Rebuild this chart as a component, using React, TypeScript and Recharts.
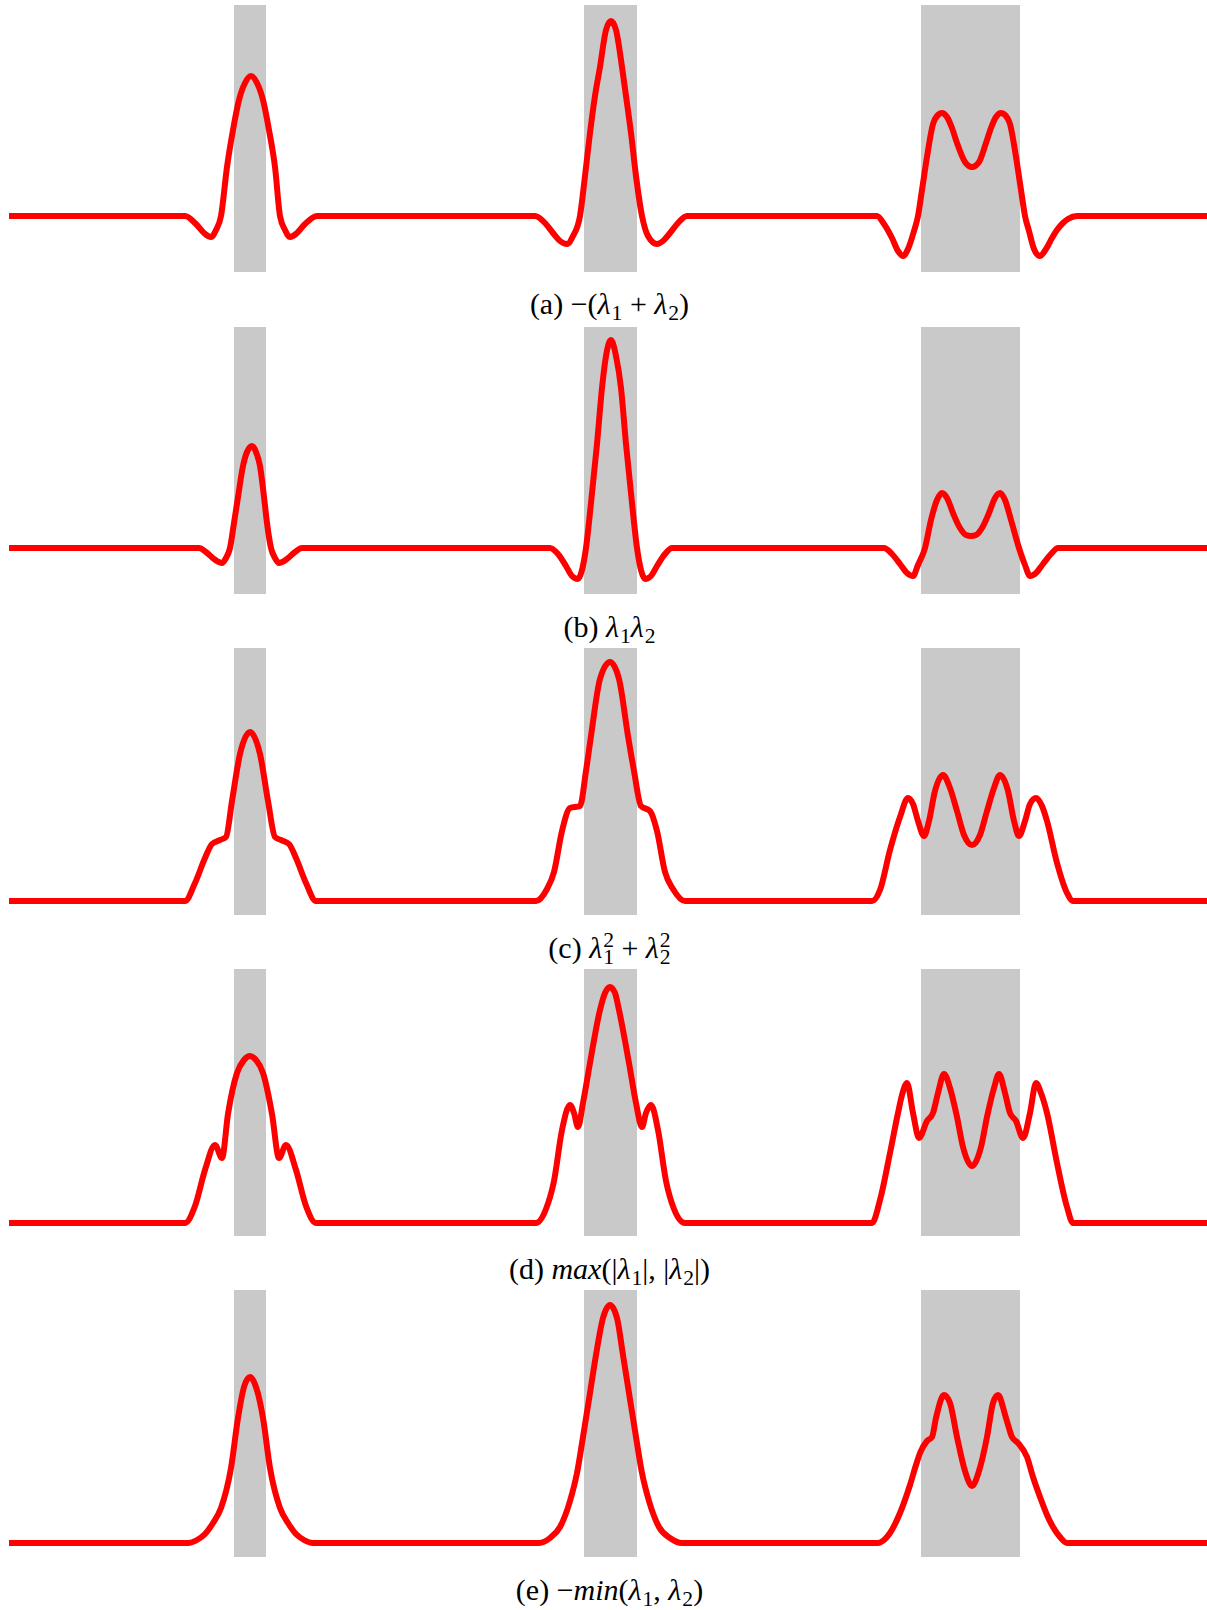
import React from 'react';
import { LineChart, Line, XAxis, YAxis, ReferenceArea } from 'recharts';

// gray bands (same in every panel), x in pixels of the 1207px wide figure
const bandStarts = [234, 584, 921];
const bandEnds = [266, 637, 1020];

// curves: [x, height above the panel's flat level]
const curveA: [number, number][] = [
  [9, 0], [185, 0], [196, -8], [204, -17], [211, -21], [216, -14], [221, 0], [227, 49], [233, 86], [239, 116], [245, 133], [251, 140], [257, 133], [263, 116], [269, 86], [275, 49], [280, 0], [285, -14], [290, -21], [297, -17], [305, -8], [317, 0],
  [535, 0], [545, -7], [553, -17], [560, -25], [567, -28], [573, -20], [580, 0], [585, 40], [590, 83], [595, 120], [600, 149], [606, 186], [611, 195], [616, 186], [622, 149], [626, 120], [631, 83], [636, 40], [642, 0], [648, -20], [657, -28], [663, -25], [670, -17], [678, -7], [687, 0],
  [877, 0], [884, -8], [892, -22], [898, -35], [903, -40], [908, -33], [914, -15], [918, 0], [922, 26], [927, 59], [933, 92], [937, 100], [942, 103], [947, 99], [952, 88], [957, 73], [965, 54], [972, 49], [979, 54], [986, 73], [991, 88], [996, 99], [1001, 103], [1006, 100], [1010, 92], [1016, 59], [1021, 26], [1025, 0], [1029, -15], [1034, -33], [1040, -40], [1046, -33], [1052, -22], [1057, -14], [1063, -7], [1068, -3], [1077, 0],
  [1207, 0],
];

const curveB: [number, number][] = [
  [9, 0], [199, 0], [206, -4], [214, -11], [222, -15], [226, -10], [230, 0], [234, 25], [238, 51], [243, 82], [247, 96], [252, 102], [256, 96], [260, 82], [264, 51], [267, 25], [271, 0], [275, -10], [279, -15], [287, -11], [295, -4], [302, 0],
  [550, 0], [558, -6], [566, -18], [572, -28], [578, -31], [582, -22], [586, 0], [591, 45], [597, 104], [602, 160], [606, 192], [611, 208], [616, 192], [621, 160], [626, 104], [632, 45], [637, 0], [641, -22], [645, -31], [651, -28], [657, -18], [665, -6], [672, 0],
  [884, 0], [892, -6], [900, -16], [907, -25], [913, -28], [918, -17], [925, 0], [931, 28], [937, 48], [942, 55], [947, 50], [953, 35], [960, 20], [966, 13], [971, 12], [976, 13], [982, 20], [989, 35], [995, 50], [1000, 55], [1005, 48], [1011, 28], [1019, 0], [1025, -17], [1030, -28], [1036, -25], [1043, -16], [1051, -6], [1058, 0],
  [1207, 0],
];

const curveC: [number, number][] = [
  [9, 0], [185, 0], [195, 18], [205, 43], [212, 57], [220, 61], [226, 64], [232, 100], [240, 147], [250, 169], [260, 147], [268, 100], [275, 64], [281, 61], [289, 57], [296, 43], [306, 18], [316, 0],
  [536, 0], [547, 12], [554, 29], [562, 70], [570, 93], [580, 95], [586, 130], [591, 165], [600, 222], [610, 239], [619, 222], [628, 165], [634, 130], [641, 95], [650, 90], [657, 70], [665, 29], [673, 12], [685, 0],
  [872, 0], [880, 11], [890, 51], [900, 84], [908, 103], [913, 97], [918, 80], [924, 65], [929, 80], [935, 110], [943, 126], [950, 113], [957, 90], [964, 66], [972, 56], [980, 66], [987, 90], [994, 113], [1000, 126], [1008, 110], [1014, 80], [1019, 65], [1025, 80], [1030, 97], [1036, 103], [1042, 95], [1047, 80], [1057, 38], [1067, 8], [1073, 0],
  [1207, 0],
];

const curveD: [number, number][] = [
  [9, 0], [185, 0], [195, 17], [205, 53], [215, 78], [222, 65], [228, 109], [237, 150], [244, 163], [250, 167], [256, 163], [263, 150], [272, 109], [279, 65], [286, 78], [296, 53], [306, 17], [316, 0],
  [536, 0], [546, 14], [554, 42], [562, 93], [570, 118], [574, 110], [578, 96], [583, 120], [590, 160], [600, 213], [605, 230], [610, 236], [615, 230], [619, 213], [629, 160], [636, 120], [642, 96], [646, 110], [651, 118], [658, 93], [666, 42], [674, 14], [685, 0],
  [872, 0], [880, 23], [890, 70], [898, 110], [902, 128], [907, 140], [913, 110], [919, 85], [927, 102], [933, 110], [938, 130], [944, 149], [950, 135], [957, 106], [963, 76], [972, 57], [981, 76], [987, 106], [994, 135], [999, 149], [1005, 130], [1010, 110], [1016, 102], [1023, 85], [1030, 110], [1036, 140], [1041, 130], [1047, 110], [1057, 60], [1067, 16], [1073, 0],
  [1207, 0],
];

const curveE: [number, number][] = [
  [9, 0], [188, 0], [197, 3], [205, 9], [213, 20], [221, 35], [231, 75], [238, 125], [244, 156], [250, 166], [256, 156], [263, 125], [270, 75], [280, 35], [288, 20], [296, 9], [304, 3], [313, 0],
  [539, 0], [550, 5], [560, 16], [570, 42], [577, 70], [583, 106], [590, 150], [596, 188], [603, 225], [610, 238], [617, 225], [623, 188], [629, 150], [636, 106], [642, 70], [649, 42], [659, 16], [670, 5], [682, 0],
  [878, 0], [884, 3], [890, 10], [900, 30], [910, 58], [916, 78], [920, 90], [927, 102], [932, 106], [936, 125], [944, 148], [950, 140], [957, 106], [965, 72], [972, 57], [979, 72], [987, 106], [993, 140], [998, 148], [1006, 125], [1012, 106], [1018, 100], [1027, 86], [1033, 66], [1040, 46], [1047, 28], [1053, 16], [1060, 6], [1067, 0],
  [1207, 0],
];

const W = 1207;
const PANEL_H = 267;

const Lam = ({ i }: { i: string }) => (
  <>
    <i>λ</i>
    <span style={{ fontSize: '0.72em', position: 'relative', top: '0.28em', marginLeft: 1 }}>{i}</span>
  </>
);

// λ with a superscript 2 placed over the subscript
const script: React.CSSProperties = {
  display: 'inline-block',
  fontSize: '0.72em',
  lineHeight: '15px',
  height: 15,
  position: 'relative',
};
const LamSq = ({ i }: { i: string }) => (
  <>
    <i>λ</i>
    <span style={{ ...script, top: '-0.5em', marginLeft: 1 }}>2</span>
    <span style={{ ...script, top: '0.3em', marginLeft: '-0.5em' }}>{i}</span>
  </>
);

const panels = [
  { curve: curveA, top: 5, base: 216, capY: 305, caption: <>(a) −(<Lam i="1" /> + <Lam i="2" />)</> },
  { curve: curveB, top: 327, base: 548, capY: 628, caption: <>(b) <Lam i="1" /><Lam i="2" /></> },
  { curve: curveC, top: 648, base: 901, capY: 949, caption: <>(c) <LamSq i="1" /> + <LamSq i="2" /></> },
  { curve: curveD, top: 969, base: 1223, capY: 1270, caption: <>(d) <i>max</i>(|<Lam i="1" />|, |<Lam i="2" />|)</> },
  { curve: curveE, top: 1290, base: 1543, capY: 1591, caption: <>(e) −<i>min</i>(<Lam i="1" />, <Lam i="2" />)</> },
];

export default function App() {
  return (
    <div style={{ position: 'absolute', left: 0, top: 0, width: W, height: 1610, background: '#fff', overflow: 'hidden' }}>
      {panels.map((p, k) => {
        const data = p.curve.map(([x, h]) => ({ x, h }));
        const high = p.base - p.top;
        const low = p.base - (p.top + PANEL_H);
        return (
          <React.Fragment key={k}>
            <div style={{ position: 'absolute', left: 0, top: p.top }}>
              <LineChart width={W} height={PANEL_H} data={data} margin={{ top: 0, right: 0, bottom: 0, left: 0 }}>
                <XAxis type="number" dataKey="x" domain={[0, W]} hide allowDataOverflow />
                <YAxis type="number" domain={[low, high]} hide allowDataOverflow />
                {bandStarts.map((s, j) => (
                  <ReferenceArea key={j} x1={s} x2={bandEnds[j]} fill="#c9c9c9" fillOpacity={1} stroke="none" />
                ))}
                <Line
                  type="monotone"
                  dataKey="h"
                  stroke="#ff0000"
                  strokeWidth={6}
                  dot={false}
                  activeDot={false}
                  isAnimationActive={false}
                />
              </LineChart>
            </div>
            <div
              style={{
                position: 'absolute',
                left: 0,
                width: 1219,
                top: p.capY - 21,
                height: 40,
                lineHeight: '40px',
                textAlign: 'center',
                fontFamily: '"Liberation Serif", "DejaVu Serif", serif',
                fontSize: 30,
                color: '#000',
                whiteSpace: 'nowrap',
              }}
            >
              {p.caption}
            </div>
          </React.Fragment>
        );
      })}
    </div>
  );
}
